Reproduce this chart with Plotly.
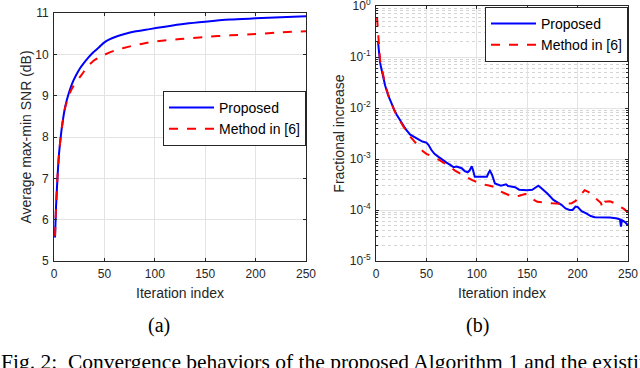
import plotly.graph_objects as go

# ---------------- data: (a) average max-min SNR ----------------
iter_a_prop = [1, 2, 3, 4, 5, 6, 8, 11, 13, 16, 19, 22, 26, 29, 34, 39, 45, 50, 55, 62,
               70, 80, 95, 110, 130, 150, 175, 200, 225, 250]
snr_prop = [5.57, 6.3, 6.8, 7.25, 7.6, 7.85, 8.27, 8.72, 8.92, 9.16, 9.35, 9.5, 9.67, 9.77,
            9.92, 10.05, 10.18, 10.29, 10.36, 10.43, 10.49, 10.55, 10.61, 10.67, 10.74,
            10.79, 10.84, 10.87, 10.9, 10.92]

iter_a_ref = [1, 2, 3, 4, 5, 6, 8, 11, 13, 16, 19, 22, 26, 29, 34, 39, 45, 50, 60, 70,
              80, 90, 100, 125, 150, 175, 200, 225, 250]
snr_ref = [5.6, 6.3, 6.8, 7.25, 7.6, 7.85, 8.26, 8.7, 8.88, 9.08, 9.22, 9.33, 9.46, 9.56,
           9.72, 9.84, 9.93, 9.99, 10.09, 10.16, 10.22, 10.27, 10.31, 10.37, 10.42,
           10.46, 10.49, 10.53, 10.56]

# ---------------- data: (b) fractional increase ----------------
iter_b_prop = [2, 3, 4, 5, 7, 9, 12, 15, 18, 21, 24, 27, 30, 34, 38, 42, 46, 50, 52, 55,
               58, 62, 66, 70, 74, 77, 80, 85, 88, 91, 93, 95, 96, 98, 104, 110, 112, 113,
               115, 118, 124, 129, 131, 138, 142, 146, 150, 155, 158, 161, 163, 166, 170,
               176, 180, 184, 188, 192, 195, 198, 200, 204, 209, 213, 217, 225, 232, 238,
               242, 243, 244, 247, 249, 250]
frac_prop = [0.20, 0.112, 0.079, 0.063, 0.042, 0.028, 0.0178, 0.0126, 0.0093, 0.0071,
             0.0056, 0.0044, 0.0037, 0.0030, 0.0027, 0.0024, 0.0022, 0.0021, 0.0019,
             0.0015, 0.00126, 0.0011, 0.00095, 0.00085, 0.00076, 0.00069, 0.00071,
             0.00066, 0.00058, 0.00055, 0.0006, 0.00072, 0.00063, 0.00045, 0.00045,
             0.00045, 0.00055, 0.00059, 0.0005, 0.00033, 0.0003, 0.00032, 0.000295,
             0.00028, 0.00025, 0.000245, 0.000245, 0.00025, 0.000275, 0.0003, 0.00028,
             0.00025, 0.00021, 0.000158, 0.000141, 0.000126, 0.000107, 0.0001, 0.0001,
             0.000117, 0.000115, 0.000095, 0.000085, 0.000076, 0.000072, 0.000072,
             0.000071, 0.000069, 0.000066, 0.000047, 0.000063, 0.000058, 0.000054, 0.00005]

iter_b_ref = [1, 2, 3, 4, 5, 7, 9, 12, 15, 18, 21, 24, 27, 30, 34, 38, 42, 46, 50, 53,
              58, 63, 68, 73, 78, 83, 90, 96, 100, 106, 113, 118, 124, 130, 136, 142, 148,
              151, 155, 160, 168, 175, 182, 188, 194, 198, 201, 204, 207, 211, 215, 219,
              223, 225, 227, 232, 237, 242, 246, 250]
frac_ref = [0.6, 0.32, 0.14, 0.089, 0.071, 0.045, 0.0295, 0.0186, 0.0126, 0.0091, 0.0069,
            0.0054, 0.0043, 0.0035, 0.00275, 0.0022, 0.00178, 0.00145, 0.00126, 0.0012,
            0.00107, 0.00095, 0.00083, 0.00071, 0.0006, 0.00052, 0.00044, 0.00038,
            0.00035, 0.00032, 0.0003, 0.00028, 0.00023, 0.0002, 0.00018, 0.00019,
            0.000205, 0.0002, 0.000166, 0.000145, 0.000138, 0.000135, 0.000132, 0.000132,
            0.000135, 0.000151, 0.000178, 0.000214, 0.000245, 0.000224, 0.00019,
            0.000166, 0.000138, 0.00011, 0.000145, 0.000148, 0.000135, 0.000117,
            0.000105, 0.000089]

series_names = ["Proposed", "Method in [6]"]
x_ticks = [0, 50, 100, 150, 200, 250]
snr_ticks = [5, 6, 7, 8, 9, 10, 11]
frac_ticks = [1e-5, 1e-4, 1e-3, 1e-2, 1e-1, 1e0]
frac_tick_labels = ["10<sup>-5</sup>", "10<sup>-4</sup>", "10<sup>-3</sup>",
                    "10<sup>-2</sup>", "10<sup>-1</sup>", "10<sup>0</sup>"]
x_title = "Iteration index"
snr_title = "Average max-min SNR (dB)"
frac_title = "Fractional increase"
panel_labels = ["(a)", "(b)"]
caption = "Fig. 2:\u00a0 Convergence behaviors of the proposed Algorithm 1 and the existing"

# ---------------- styling ----------------
W, H = 640, 368
AX = "#262626"
GRID = "#e3e3e3"
SANS = "Liberation Sans, Arial, Helvetica, sans-serif"
SERIF = "Liberation Serif, Times New Roman, serif"
BLUE = "#0000ff"
RED = "#ff0000"


def px_x(p):
    return p / W


def px_y(p):
    return 1 - p / H


common = dict(showline=True, linecolor=AX, linewidth=1, mirror="ticks", ticks="inside",
              ticklen=3, tickcolor=AX, tickwidth=1, showgrid=True, gridcolor=GRID,
              gridwidth=1, zeroline=False, automargin=False, ticklabeloverflow="allow",
              ticklabelstandoff=2,
              tickfont=dict(family=SANS, size=12, color=AX))

fig = go.Figure()
fig.add_trace(go.Scatter(x=iter_a_prop, y=snr_prop, mode="lines", name=series_names[0],
                         line=dict(color=BLUE, width=2, shape="spline", smoothing=0.6),
                         xaxis="x", yaxis="y", legend="legend"))
fig.add_trace(go.Scatter(x=iter_a_ref, y=snr_ref, mode="lines", name=series_names[1],
                         line=dict(color=RED, width=2, dash="dash", shape="spline",
                                   smoothing=0.6),
                         xaxis="x", yaxis="y", legend="legend"))
fig.add_trace(go.Scatter(x=iter_b_prop, y=frac_prop, mode="lines", name=series_names[0],
                         line=dict(color=BLUE, width=2),
                         xaxis="x2", yaxis="y2", legend="legend2"))
fig.add_trace(go.Scatter(x=iter_b_ref, y=frac_ref, mode="lines", name=series_names[1],
                         line=dict(color=RED, width=2, dash="dash"),
                         xaxis="x2", yaxis="y2", legend="legend2"))

legend_common = dict(bgcolor="white", bordercolor=AX, borderwidth=1,
                     font=dict(family=SANS, size=14, color="black"),
                     xanchor="right", yanchor="top", tracegroupgap=0, itemwidth=45)

title_font = dict(family=SANS, size=14, color=AX)

fig.update_layout(
    width=W, height=H, margin=dict(l=0, r=0, t=0, b=0, autoexpand=False),
    paper_bgcolor="white", plot_bgcolor="white",
    xaxis=dict(common, domain=[px_x(54), px_x(306)], range=[0, 250], tickvals=x_ticks,
               anchor="y", title=dict(text=x_title, font=title_font, standoff=7)),
    yaxis=dict(common, domain=[px_y(261), px_y(13)], range=[5, 11], tickvals=snr_ticks,
               anchor="x", title=dict(text=snr_title, font=title_font, standoff=0)),
    xaxis2=dict(common, domain=[px_x(376), px_x(628)], range=[0, 250], tickvals=x_ticks,
                anchor="y2", title=dict(text=x_title, font=title_font, standoff=7)),
    yaxis2=dict(common, type="log", domain=[px_y(261), px_y(6)], range=[-5, 0],
                tickvals=frac_ticks, ticktext=frac_tick_labels, anchor="x2",
                minor=dict(dtick="D1", showgrid=True, gridcolor="#d4d4d4",
                           griddash="dot", gridwidth=1, ticks="inside", ticklen=2,
                           tickcolor=AX),
                title=dict(text=frac_title, font=title_font, standoff=1)),
    legend=dict(legend_common, x=px_x(306), y=px_y(91)),
    legend2=dict(legend_common, x=px_x(628), y=px_y(7)),
    showlegend=True,
)

fig.add_annotation(text=panel_labels[0], x=px_x(159), y=px_y(325), xref="paper",
                   yref="paper", showarrow=False, xanchor="center", yanchor="middle",
                   font=dict(family=SERIF, size=20, color="black"))
fig.add_annotation(text=panel_labels[1], x=px_x(477), y=px_y(325), xref="paper",
                   yref="paper", showarrow=False, xanchor="center", yanchor="middle",
                   font=dict(family=SERIF, size=20, color="black"))
fig.add_annotation(text=caption, x=px_x(-1), y=px_y(348), xref="paper", yref="paper",
                   showarrow=False, xanchor="left", yanchor="top",
                   font=dict(family=SERIF, size=21.5, color="black"))

fig.write_html("out.html", config={"displayModeBar": False},
               post_script="document.body.style.margin='0';document.body.style.padding='0';")
